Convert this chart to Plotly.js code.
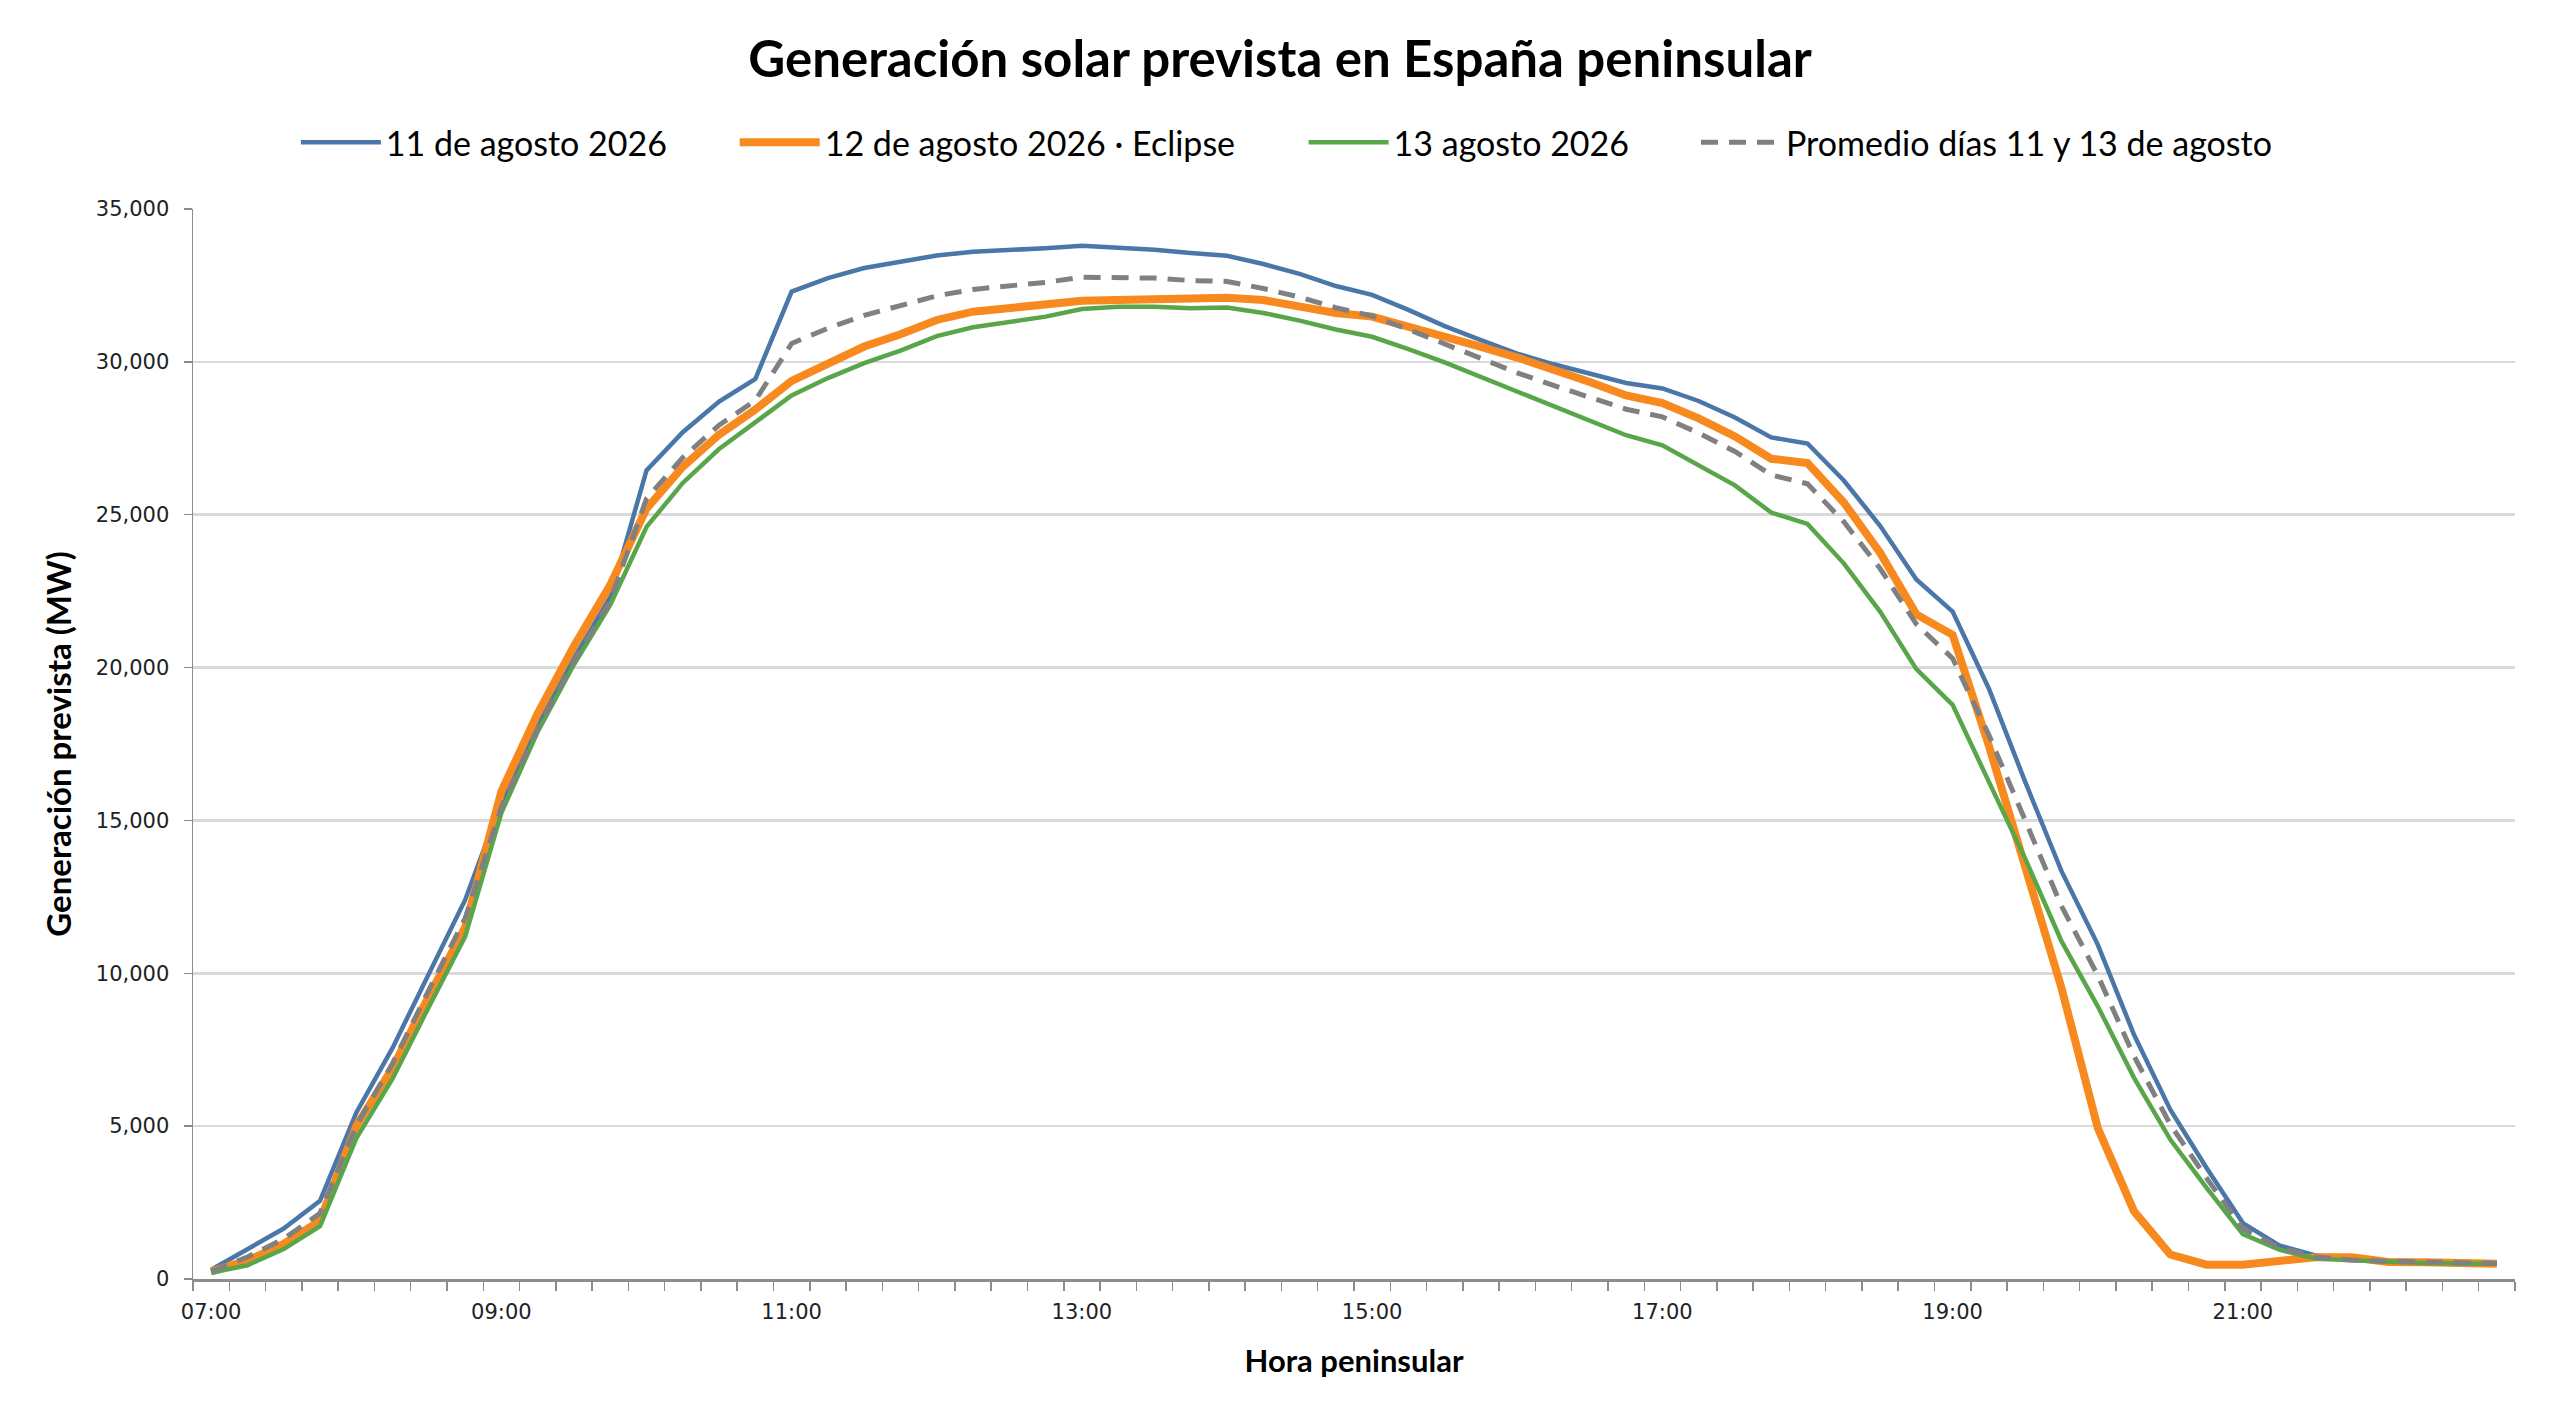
<!DOCTYPE html>
<html>
<head>
<meta charset="utf-8">
<script src="https://cdn.plot.ly/plotly-3.0.1.min.js"></script>
<style>
  body { margin: 0; background: #ffffff; }
  #chart { width: 2560px; height: 1418px; }
</style>
</head>
<body>
<div id="chart"></div>
<script>
// quarter-hour slots, peninsular time
var horas = [
  "07:00", "07:15", "07:30", "07:45", "08:00", "08:15", "08:30", "08:45",
  "09:00", "09:15", "09:30", "09:45", "10:00", "10:15", "10:30", "10:45",
  "11:00", "11:15", "11:30", "11:45", "12:00", "12:15", "12:30", "12:45",
  "13:00", "13:15", "13:30", "13:45", "14:00", "14:15", "14:30", "14:45",
  "15:00", "15:15", "15:30", "15:45", "16:00", "16:15", "16:30", "16:45",
  "17:00", "17:15", "17:30", "17:45", "18:00", "18:15", "18:30", "18:45",
  "19:00", "19:15", "19:30", "19:45", "20:00", "20:15", "20:30", "20:45",
  "21:00", "21:15", "21:30", "21:45", "22:00", "22:15", "22:30", "22:45"
];

// only every 8th slot gets a label
var horasEtiqueta = ["07:00", "09:00", "11:00", "13:00", "15:00", "17:00", "19:00", "21:00"];

// forecast solar generation (MW)
var dia11 = [
  300, 980, 1650, 2560, 5440, 7560, 10000, 12400,
  15600, 18100, 20300, 22300, 26450, 27700, 28700, 29440,
  32300, 32740, 33070, 33280, 33480, 33600, 33650, 33720,
  33800, 33740, 33670, 33560, 33470, 33200, 32880, 32480,
  32190, 31700, 31170, 30710, 30270, 29920, 29620, 29310,
  29130, 28720, 28180, 27530, 27330, 26120, 24640, 22880,
  21830, 19310, 16260, 13340, 10940, 7990, 5540, 3630,
  1830, 1100, 770, 630, 600, 580, 560, 520
];

var dia12 = [
  250, 600, 1150, 1900, 5000, 6900, 9250, 11500,
  15950, 18500, 20700, 22700, 25200, 26570, 27620, 28440,
  29380, 29960, 30500, 30900, 31370, 31640, 31780, 31860,
  32000, 32020, 32050, 32050, 32100, 32020, 31830, 31600,
  31480, 31170, 30840, 30490, 30140, 29750, 29340, 28900,
  28650, 28150, 27560, 26830, 26690, 25400, 23760, 21740,
  21070, 17440, 13500, 9520, 4940, 2210, 800, 470,
  470, 600, 710, 710, 560, 550, 520, 500
];

var dia13 = [
  200, 450, 980, 1730, 4600, 6550, 8900, 11200,
  15250, 17900, 20100, 22050, 24600, 26040, 27150, 28030,
  28900, 29470, 29960, 30370, 30840, 31130, 31300, 31480,
  31730, 31800, 31800, 31750, 31780, 31600, 31350, 31060,
  30820, 30420, 29980, 29500, 29000, 28540, 28060, 27600,
  27270, 26620, 25960, 25070, 24700, 23410, 21830, 19950,
  18780, 16260, 13750, 11050, 8920, 6580, 4560, 2980,
  1470, 960, 670, 610, 550, 520, 510, 500
];

var promedio = [
  250, 720, 1310, 2150, 5020, 7050, 9450, 11800,
  15430, 18000, 20200, 22180, 25530, 26870, 27930, 28740,
  30600, 31100, 31520, 31830, 32160, 32370, 32480, 32600,
  32770, 32770, 32740, 32660, 32630, 32400, 32120, 31770,
  31500, 31060, 30580, 30100, 29640, 29230, 28840, 28450,
  28200, 27670, 27070, 26300, 26010, 24770, 23240, 21420,
  20300, 17790, 15000, 12200, 9930, 7290, 5050, 3300,
  1650, 1030, 720, 620, 580, 550, 540, 510
];

var nombres = [
  "11 de agosto 2026",
  "12 de agosto 2026 · Eclipse",
  "13 agosto 2026",
  "Promedio días 11 y 13 de agosto"
];

var fuenteTexto = "Lato, 'Open Sans', sans-serif";
var fuenteEjes = "'DejaVu Sans', Verdana, sans-serif";

// each series gets its own legend so the entries can be spread like the original
function serie(y, nombre, color, ancho, dash, leyenda) {
  return {
    x: horas,
    y: y,
    type: "scatter",
    mode: "lines",
    name: nombre,
    legend: leyenda,
    line: { color: color, width: ancho, dash: dash || "solid" },
    hoverinfo: "skip"
  };
}

var trazas = [
  serie(dia11, nombres[0], "#4a77a8", 4.5, "solid", "legend"),
  serie(dia12, nombres[1], "#f7891f", 8, "solid", "legend2"),
  serie(dia13, nombres[2], "#59a64a", 4.5, "solid", "legend3"),
  serie(promedio, nombres[3], "#808080", 5, "17px,11px", "legend4")
];

// tick text on every slot, blank except the labelled hours
var textoTicks = horas.map(function (h) {
  return horasEtiqueta.indexOf(h) >= 0 ? h : "";
});

function leyenda(x) {
  return {
    orientation: "h",
    x: x,
    xanchor: "left",
    y: 1.062,
    yanchor: "middle",
    font: { family: fuenteTexto, size: 34, color: "#000000" },
    itemwidth: 80,
    bgcolor: "rgba(0,0,0,0)"
  };
}

var layout = {
  width: 2560,
  height: 1418,
  paper_bgcolor: "#ffffff",
  plot_bgcolor: "#ffffff",
  margin: { l: 193, r: 45, t: 209, b: 139 },
  title: {
    text: "<b>Generación solar prevista en España peninsular</b>",
    font: { family: fuenteTexto, size: 51, color: "#000000" },
    x: 0.5,
    xanchor: "center",
    y: 1 - 59 / 1418,
    yanchor: "middle"
  },
  showlegend: true,
  legend: leyenda(0.0443),
  legend2: leyenda(0.2333),
  legend3: leyenda(0.4783),
  legend4: leyenda(0.6473),
  xaxis: {
    type: "category",
    range: [-0.5, 63.5],
    tickmode: "array",
    tickvals: horas,
    ticktext: textoTicks,
    tickson: "boundaries",
    ticks: "outside",
    ticklen: 9,
    tickwidth: 1.5,
    tickcolor: "#8c8c8c",
    tickangle: 0,
    ticklabelstandoff: 12,
    showgrid: false,
    zeroline: false,
    showline: true,
    linecolor: "#8c8c8c",
    linewidth: 3,
    tickfont: { family: fuenteEjes, size: 21, color: "#222222" },
    title: {
      text: "<b>Hora peninsular</b>",
      font: { family: fuenteTexto, size: 31, color: "#000000" },
      standoff: 28
    },
    automargin: false,
    fixedrange: true
  },
  yaxis: {
    range: [0, 35000],
    dtick: 5000,
    tickformat: ",d",
    ticks: "outside",
    ticklen: 8,
    tickwidth: 1.5,
    tickcolor: "#8c8c8c",
    ticklabelstandoff: 10,
    showgrid: true,
    gridcolor: "#d9d9d9",
    gridwidth: 2.5,
    zeroline: false,
    showline: true,
    linecolor: "#8c8c8c",
    linewidth: 1.5,
    tickfont: { family: fuenteEjes, size: 21, color: "#222222" },
    title: {
      text: "<b>Generación prevista (MW)</b>",
      font: { family: fuenteTexto, size: 33, color: "#000000" },
      standoff: 14
    },
    automargin: false,
    fixedrange: true
  }
};

Plotly.newPlot("chart", trazas, layout, { staticPlot: true, displayModeBar: false });
</script>
</body>
</html>
